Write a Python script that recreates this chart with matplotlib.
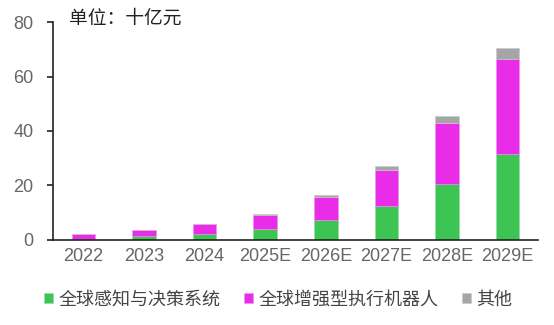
import matplotlib
matplotlib.use("Agg")
import matplotlib.pyplot as plt
import numpy as np

plt.rcParams['font.family'] = ['Noto Sans CJK SC', 'DejaVu Sans']

categories = ["2022", "2023", "2024", "2025E", "2026E", "2027E", "2028E", "2029E"]
perception = [0.3, 1.5, 2.1, 3.9, 7.3, 12.5, 20.7, 31.6]
actuator = [1.7, 2.2, 3.7, 5.3, 8.4, 13.2, 22.1, 34.8]
other = [0.1, 0.1, 0.2, 0.3, 0.9, 1.6, 2.6, 4.2]
series_names = ["全球感知与决策系统", "全球增强型执行机器人", "其他"]
colors = ["#3DC553", "#E82CE8", "#A6A6A6"]

fig = plt.figure(figsize=(5.54, 3.25), dpi=100)
ax = fig.add_axes([0.096, 0.262, 0.875, 0.670])

x = np.arange(len(categories))
w = 0.39
p = np.array(perception)
a = np.array(actuator)
o = np.array(other)
ax.bar(x, p, w, color=colors[0], label=series_names[0], edgecolor="#9BD9A5", linewidth=0.4)
ax.bar(x, a, w, bottom=p, color=colors[1], label=series_names[1], edgecolor="#F08FF0", linewidth=0.4)
ax.bar(x, o, w, bottom=p + a, color=colors[2], label=series_names[2], edgecolor="#C8C8C8", linewidth=0.4)

ax.set_xlim(-0.5, 7.5)
ax.set_ylim(0, 80)
ax.set_yticks([0, 20, 40, 60, 80])
ax.set_xticks(x)
ax.set_xticklabels(categories)
for s in ["top", "right"]:
    ax.spines[s].set_visible(False)
ax.spines["left"].set_color("#222222")
ax.spines["bottom"].set_color("#222222")
ax.spines["left"].set_linewidth(1.2)
ax.spines["bottom"].set_linewidth(1.2)
ax.tick_params(axis="y", direction="out", length=4, width=1.2, colors="#222222", labelcolor="#666666", labelsize=13, pad=10)
ax.tick_params(axis="x", length=0, labelcolor="#666666", labelsize=13, pad=6)
for lbl in ax.get_xticklabels() + ax.get_yticklabels():
    lbl.set_fontfamily(['Liberation Sans', 'DejaVu Sans'])

fig.text(0.124, 0.945, "单位：十亿元", fontsize=13.5, color="#222222", va="center", ha="left")

leg = fig.legend(loc="lower left", bbox_to_anchor=(0.05, 0.0), ncol=3, frameon=False,
                 fontsize=13, handlelength=0.5, handleheight=0.5, handletextpad=0.3,
                 columnspacing=1.3, labelcolor="#444444")

fig.savefig("out.png", dpi=100, facecolor="white")
